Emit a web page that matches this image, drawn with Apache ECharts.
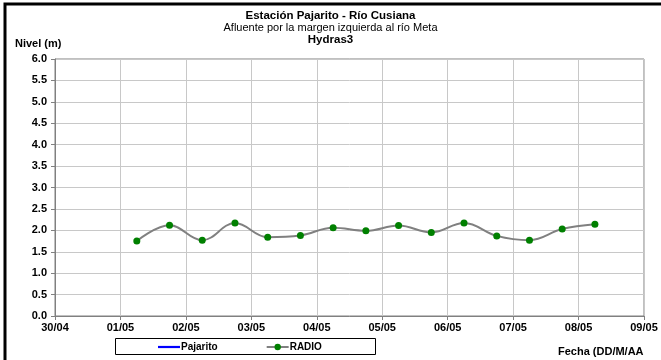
<!DOCTYPE html>
<html><head><meta charset="utf-8">
<script src="https://cdn.jsdelivr.net/npm/echarts@6/dist/echarts.min.js"></script>
<style>html,body{margin:0;padding:0;background:#fff}#c{width:661px;height:360px}</style>
</head><body><div id="c"></div>
<script>
// X positions in days since 30/04 00:00
const tickLabels = ['30/04','01/05','02/05','03/05','04/05','05/05','06/05','07/05','08/05','09/05'];
const radioDays = [1.25,1.75,2.25,2.75,3.25,3.75,4.25,4.75,5.25,5.75,6.25,6.75,7.25,7.75,8.25];
const radioLevels = [1.75,2.12,1.77,2.17,1.84,1.88,2.06,1.99,2.11,1.95,2.17,1.87,1.77,2.03,2.14];
const pajaritoLevels = [];

const font = 'Liberation Sans, Arial, sans-serif';
const chart = echarts.init(document.getElementById('c'));
chart.setOption({
  animation: false,
  backgroundColor: '#fff',
  title: [
    {text: 'Estación Pajarito - Río Cusiana', left: 'center', top: 5, textStyle: {fontFamily: font, fontSize: 11.5, fontWeight: 'bold', color: '#000'}},
    {text: 'Afluente por la margen izquierda al río Meta', left: 'center', top: 17, textStyle: {fontFamily: font, fontSize: 11, fontWeight: 'normal', color: '#000'}},
    {text: 'Hydras3', left: 'center', top: 29, textStyle: {fontFamily: font, fontSize: 11.5, fontWeight: 'bold', color: '#000'}},
    {text: 'Nivel (m)', left: 10, top: 33, textStyle: {fontFamily: font, fontSize: 11, fontWeight: 'bold', color: '#000'}},
    {text: 'Fecha (DD/M/AA', left: 553, top: 341, textStyle: {fontFamily: font, fontSize: 11, fontWeight: 'bold', color: '#000'}}
  ],
  grid: {left: 55, right: 17, top: 59, bottom: 44, show: false},
  legend: {
    left: 158, top: 342, padding: 0, itemGap: 48, itemWidth: 22, itemHeight: 8,
    textStyle: {fontFamily: font, fontSize: 10, fontWeight: 'bold', color: '#000', padding: [0,0,0,-4]},
    data: [{name: 'Pajarito', icon: 'path://M0,0 L10,0 L10,1 L0,1 Z'}, {name: 'RADIO'}]
  },
  xAxis: {
    type: 'value', min: 0, max: 9, interval: 1,
    axisLine: {show: true, lineStyle: {color: '#808080', width: 1}},
    axisTick: {show: true, length: 4, lineStyle: {color: '#808080'}},
    splitLine: {show: true, lineStyle: {color: '#c8c8c8', width: 1}},
    axisLabel: {fontFamily: font, fontSize: 11, fontWeight: 'bold', color: '#000', margin: 6,
      formatter: v => tickLabels[Math.round(v)]}
  },
  yAxis: {
    type: 'value', min: 0, max: 6, interval: 0.5,
    axisLine: {show: true, lineStyle: {color: '#808080', width: 1}},
    axisTick: {show: true, length: 4, lineStyle: {color: '#808080'}},
    splitLine: {show: true, lineStyle: {color: '#c8c8c8', width: 1}},
    axisLabel: {fontFamily: font, fontSize: 11, fontWeight: 'bold', color: '#000', margin: 8,
      formatter: v => v.toFixed(1)}
  },
  series: [
    {name: 'Pajarito', type: 'line', data: pajaritoLevels, lineStyle: {color: '#0000ff', width: 1.5}, itemStyle: {color: '#0000ff'}, showSymbol: false},
    {name: 'RADIO', type: 'line', smooth: 0.4,
      data: radioDays.map((d, i) => [d, radioLevels[i]]),
      lineStyle: {color: '#808080', width: 2},
      symbol: 'circle', symbolSize: 7,
      itemStyle: {color: '#008000', borderWidth: 0}}
  ],
  graphic: [
    {type: 'rect', shape: {x: 5, y: 4, width: 700, height: 400}, style: {fill: 'none', stroke: '#000', lineWidth: 3}, silent: true, z: 100},
    {type: 'rect', shape: {x: 115.5, y: 338.5, width: 260, height: 16}, style: {fill: 'none', stroke: '#000', lineWidth: 1}, silent: true, z: 100},
    {type: 'rect', shape: {x: 55, y: 59, width: 589, height: 257}, style: {fill: 'none', stroke: '#808080', lineWidth: 1}, silent: true, z: 0}
  ]
});
</script></body></html>
